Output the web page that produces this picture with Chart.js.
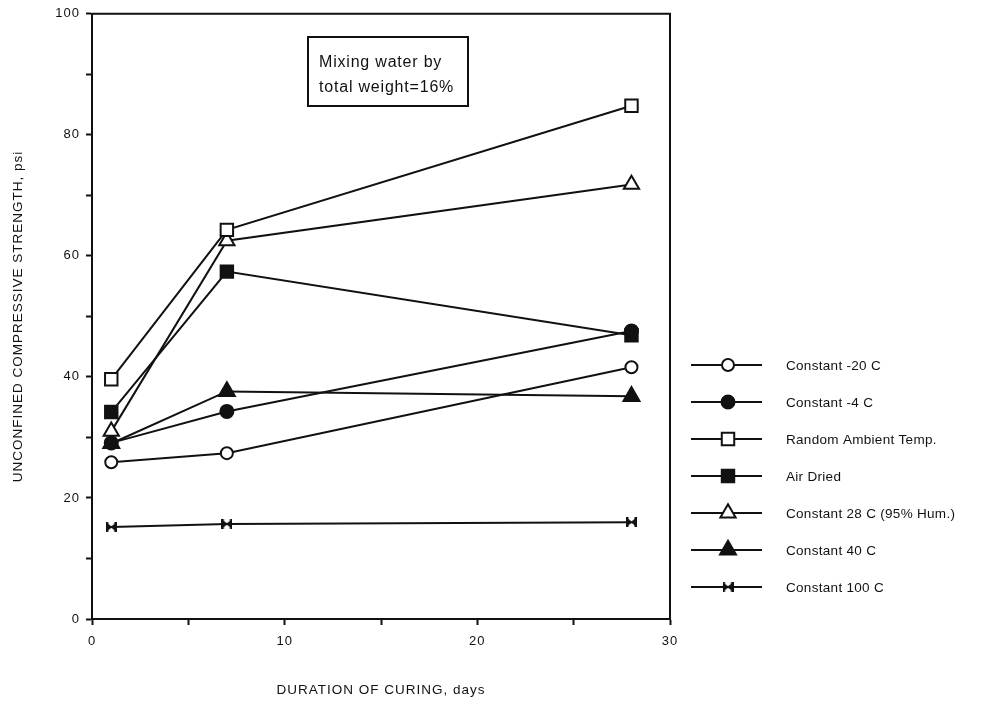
<!DOCTYPE html>
<html>
<head>
<meta charset="utf-8">
<script src="https://cdn.jsdelivr.net/npm/chart.js@4.4.1/dist/chart.umd.min.js"></script>
<style>
  html, body { margin: 0; padding: 0; background: #ffffff; }
  #wrap { width: 988px; height: 704px; position: relative; }
</style>
</head>
<body>
<div id="wrap"><canvas id="chart" width="988" height="704"></canvas></div>
<script>
// Curing durations (days) at which specimens were tested
const curingDays = [1, 7, 28];

// Unconfined compressive strength, psi, for each curing condition
const constantMinus20 = [25.9, 27.4, 41.6];
const constantMinus4  = [29.1, 34.3, 47.6];
const randomAmbient   = [39.6, 64.3, 84.8];
const airDried        = [34.2, 57.4, 46.9];
const constant28Hum   = [31.0, 62.5, 71.8];
const constant40      = [29.0, 37.6, 36.8];
const constant100     = [15.2, 15.7, 16.0];

const seriesNames = [
  'Constant -20 C',
  'Constant -4 C',
  'Random Ambient Temp.',
  'Air Dried',
  'Constant 28 C (95% Hum.)',
  'Constant 40 C',
  'Constant 100 C'
];

// Axis tick labels
const xTickLabels = [0, 10, 20, 30];
const yTickLabels = [0, 20, 40, 60, 80, 100];

const noteLines = ['Mixing water by', 'total weight=16%'];

const FONT = '"Liberation Sans", Arial, Helvetica, sans-serif';
const INK = '#111111';

// Small filled bow-tie marker for the 100 C series
function makeBowtie(w, h) {
  const c = document.createElement('canvas');
  c.width = w; c.height = h;
  const g = c.getContext('2d');
  g.fillStyle = INK;
  g.beginPath();
  g.moveTo(0, 0); g.lineTo(w / 2 + 1, h / 2); g.lineTo(0, h); g.closePath();
  g.fill();
  g.beginPath();
  g.moveTo(w, 0); g.lineTo(w / 2 - 1, h / 2); g.lineTo(w, h); g.closePath();
  g.fill();
  g.fillRect(0, 0, 2.5, h);
  g.fillRect(w - 2.5, 0, 2.5, h);
  return c;
}
const bowtie = makeBowtie(11, 10);

function series(label, values, style, radius, filled) {
  return {
    label: label,
    data: curingDays.map((d, i) => ({ x: d, y: values[i] })),
    borderColor: INK,
    borderWidth: 2,
    pointStyle: style,
    pointRadius: radius,
    pointBorderWidth: 2,
    pointBorderColor: INK,
    pointBackgroundColor: filled ? INK : '#ffffff',
    tension: 0,
    fill: false
  };
}

const datasets = [
  series(seriesNames[0], constantMinus20, 'circle', 6, false),
  series(seriesNames[1], constantMinus4, 'circle', 6.5, true),
  series(seriesNames[2], randomAmbient, 'rect', 8.8, false),
  series(seriesNames[3], airDried, 'rect', 8.8, true),
  series(seriesNames[4], constant28Hum, 'triangle', 8.8, false),
  series(seriesNames[5], constant40, 'triangle', 9.2, true),
  series(seriesNames[6], constant100, bowtie, 5, true)
];

// Frame, note box and legend drawn on top of the plot
const decorations = {
  id: 'decorations',
  beforeDraw(chart) {
    chart.ctx.letterSpacing = '1px';
  },
  afterDraw(chart) {
    const ctx = chart.ctx;
    const a = chart.chartArea;
    ctx.save();
    ctx.letterSpacing = '0px';
    ctx.strokeStyle = INK;
    ctx.lineWidth = 2;
    // top and right edges of the plot frame
    ctx.beginPath();
    ctx.moveTo(a.left, a.top);
    ctx.lineTo(a.right, a.top);
    ctx.lineTo(a.right, a.bottom);
    ctx.stroke();

    // note box
    ctx.lineWidth = 2;
    ctx.strokeRect(308, 37, 160, 69);
    ctx.fillStyle = INK;
    ctx.font = '16px ' + FONT;
    ctx.letterSpacing = '0.8px';
    ctx.textBaseline = 'alphabetic';
    ctx.textAlign = 'left';
    ctx.fillText(noteLines[0], 319, 67);
    ctx.fillText(noteLines[1], 319, 92);

    // legend: line sample with the series marker in the middle
    const legendTop = 365;
    const step = 37;
    ctx.font = '13.5px ' + FONT;
    ctx.letterSpacing = '0.3px';
    ctx.textBaseline = 'middle';
    chart.data.datasets.forEach((ds, i) => {
      const y = legendTop + i * step;
      ctx.strokeStyle = INK;
      ctx.lineWidth = 2;
      ctx.beginPath();
      ctx.moveTo(691, y);
      ctx.lineTo(762, y);
      ctx.stroke();
      ctx.fillStyle = ds.pointBackgroundColor;
      ctx.strokeStyle = ds.pointBorderColor;
      ctx.lineWidth = ds.pointBorderWidth;
      Chart.helpers.drawPoint(ctx, {
        pointStyle: ds.pointStyle,
        radius: ds.pointRadius,
        rotation: 0,
        borderWidth: ds.pointBorderWidth
      }, 728, y);
      ctx.fillStyle = INK;
      ctx.fillText(ds.label, 786, y + 1);
    });
    ctx.restore();
  }
};

new Chart(document.getElementById('chart'), {
  type: 'line',
  data: { datasets: datasets },
  options: {
    responsive: false,
    animation: false,
    events: [],
    layout: { padding: { left: 0, top: 13, right: 318, bottom: 0 } },
    plugins: {
      legend: { display: false },
      tooltip: { enabled: false }
    },
    scales: {
      x: {
        type: 'linear',
        min: 0,
        max: 30,
        afterFit(scale) { scale.height = 85; },
        border: { display: true, color: INK, width: 2 },
        grid: { display: true, drawOnChartArea: false, drawTicks: true, tickLength: 6, color: INK, tickWidth: 2 },
        ticks: {
          stepSize: 5,
          color: INK,
          padding: 9,
          maxRotation: 0,
          font: { family: FONT, size: 13 },
          callback: (v) => xTickLabels.includes(v) ? String(v) : ''
        },
        title: {
          display: true,
          text: 'DURATION OF CURING, days',
          color: INK,
          font: { family: FONT, size: 13.5 },
          padding: { top: 0, bottom: 6 }
        }
      },
      y: {
        type: 'linear',
        min: 0,
        max: 100,
        afterFit(scale) { scale.width = 92; },
        border: { display: true, color: INK, width: 2 },
        grid: { display: true, drawOnChartArea: false, drawTicks: true, tickLength: 6, color: INK, tickWidth: 2 },
        ticks: {
          stepSize: 10,
          color: INK,
          padding: 6,
          font: { family: FONT, size: 13 },
          callback: (v) => yTickLabels.includes(v) ? String(v) : ''
        },
        title: {
          display: true,
          text: 'UNCONFINED COMPRESSIVE STRENGTH, psi',
          color: INK,
          font: { family: FONT, size: 13.5 },
          padding: { top: 10, bottom: 0 }
        }
      }
    }
  },
  plugins: [decorations]
});
</script>
</body>
</html>
